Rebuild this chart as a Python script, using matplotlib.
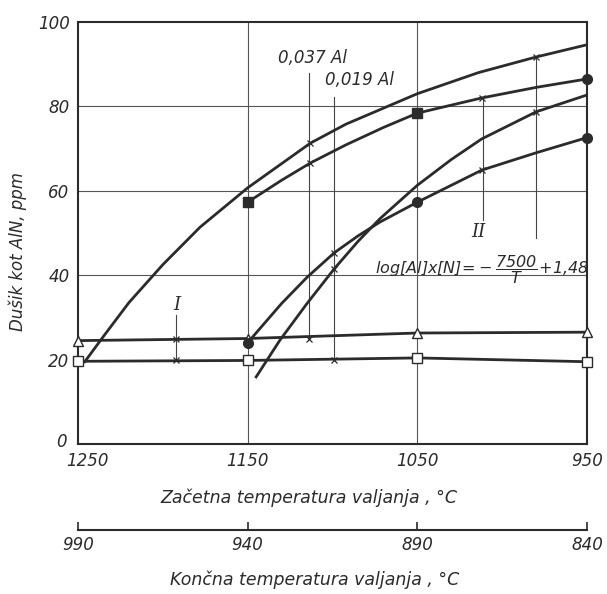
import numpy as np
import matplotlib.pyplot as plt
from matplotlib.transforms import ScaledTranslation

plt.rcParams['font.family'] = ['DejaVu Sans']
plt.rcParams['font.style'] = 'italic'
plt.rcParams['mathtext.fontset'] = 'dejavusans'

INK = '#2b2b2b'

# Začetna temperatura (°C) and nitrogen bound as AlN (ppm)
temp_c1 = [1246, 1235, 1220, 1200, 1178, 1150, 1113, 1092, 1050, 1014, 980, 950]
aln_c1 = [19.5, 25.5, 33.5, 42.5, 51.4, 60.7, 71.3, 75.8, 83.0, 88.0, 91.7, 94.6]

temp_c2 = [1150, 1130, 1113, 1092, 1070, 1050, 1012, 980, 950]
aln_c2 = [57.3, 62.5, 66.6, 70.9, 75.0, 78.4, 82.0, 84.5, 86.5]

temp_c3 = [1145, 1131, 1115, 1099, 1085, 1072, 1050, 1030, 1012, 980, 950]
aln_c3 = [15.9, 24.6, 33.3, 41.5, 48.0, 53.4, 61.3, 67.4, 72.3, 78.7, 82.7]

temp_c4 = [1150, 1130, 1115, 1099, 1085, 1072, 1050, 1012, 980, 950]
aln_c4 = [24.0, 33.3, 39.5, 45.3, 49.3, 52.6, 57.3, 64.9, 69.0, 72.6]

temp_meas = [1250, 1150, 1050, 950]
aln_tri = [24.5, 25.0, 26.3, 26.5]
aln_sq = [19.6, 19.8, 20.4, 19.5]

# measured points on the curves
circ_t = [1150, 1050, 950, 950]
circ_v = [24.0, 57.3, 72.6, 86.5]
fsq_t = [1150, 1050]
fsq_v = [57.3, 78.4]

# leader lines: (temperature, from, to)
leaders = [(1114, 88.0, 25.0), (1099, 82.2, 20.0), (1192, 30.6, 20.0),
           (1011, 82.0, 53.0), (980, 91.7, 48.8)]
cross_t = [1113, 980, 1113, 1012, 1099, 980, 1099, 1012, 1192, 1114, 1192, 1099]
cross_v = [71.3, 91.7, 66.6, 82.0, 41.5, 78.7, 45.3, 64.9, 25.0, 25.0, 20.0, 20.0]

x_ticks = [1250, 1150, 1050, 950]
y_ticks = [0, 20, 40, 60, 80, 100]
end_ticks = [990, 940, 890, 840]

fig = plt.figure(figsize=(6.07, 5.94), dpi=100)
ax = fig.add_axes([0.1285, 0.2525, 0.8385, 0.7105])

ax.set_xlim(1250, 950)
ax.set_ylim(0, 100)

# grid
for t in [1150, 1050]:
    ax.axvline(t, color='#555555', lw=0.8, zorder=1)
for v in [40, 60, 80]:
    ax.axhline(v, color='#555555', lw=0.8, zorder=1)

for t, y0, y1 in leaders:
    ax.plot([t, t], [y0, y1], color='#444444', lw=0.8, zorder=1)

lw = 2.0
ax.plot(temp_c1, aln_c1, color=INK, lw=lw, zorder=3)
ax.plot(temp_c2, aln_c2, color=INK, lw=lw, zorder=3)
ax.plot(temp_c3, aln_c3, color=INK, lw=lw, zorder=3)
ax.plot(temp_c4, aln_c4, color=INK, lw=lw, zorder=3)
ax.plot(temp_meas, aln_tri, color=INK, lw=lw, zorder=3)
ax.plot(temp_meas, aln_sq, color=INK, lw=lw, zorder=3)

ax.plot(temp_meas, aln_tri, ls='none', marker='^', ms=7, mfc='white',
        mec=INK, mew=1.0, zorder=4, clip_on=False)
ax.plot(temp_meas, aln_sq, ls='none', marker='s', ms=6.5, mfc='white',
        mec=INK, mew=1.0, zorder=4, clip_on=False)
ax.plot(circ_t, circ_v, ls='none', marker='o', ms=7, color=INK, zorder=5,
        clip_on=False)
ax.plot(fsq_t, fsq_v, ls='none', marker='s', ms=6.5, color=INK, zorder=5)
ax.plot(cross_t, cross_v, ls='none', marker='x', ms=5, mew=0.9, color=INK,
        zorder=4)

# labels in the plot
ax.text(1112, 91.5, '0,037 Al', fontsize=12, ha='center', va='center', color=INK)
ax.text(1084, 86.3, '0,019 Al', fontsize=12, ha='center', va='center', color=INK)
ax.text(1192, 33, 'I', fontsize=13, ha='center', va='center', color=INK,
        family='DejaVu Serif')
ax.text(1014, 50.2, 'II', fontsize=13, ha='center', va='center', color=INK,
        family='DejaVu Serif')
ax.text(1075, 41.3,
        r'$\mathit{log[Al]x[N]}\!=\!-\dfrac{\mathit{7500}}{\mathit{T}}\!+\!\mathit{1{,}48}$',
        fontsize=11.5, ha='left', va='center', color=INK)

ax.set_xticks(x_ticks)
ax.set_yticks(y_ticks)
ax.tick_params(length=0, labelsize=12, colors=INK, pad=6)
ax.set_yticklabels(['0', '20', '40', '60', '80', '100'])
for sp in ax.spines.values():
    sp.set_linewidth(1.5)
    sp.set_color(INK)

# nudge the corner labels apart like in the original drawing
xl0 = ax.get_xticklabels()[0]
xl0.set_transform(xl0.get_transform() + ScaledTranslation(9 / 100, 0, fig.dpi_scale_trans))
yl0 = ax.get_yticklabels()[0]
yl0.set_transform(yl0.get_transform() + ScaledTranslation(-3 / 100, 4 / 100, fig.dpi_scale_trans))

ax.set_xlabel('Začetna temperatura valjanja , °C', fontsize=12.5, color=INK,
              va='center')
ax.xaxis.set_label_coords(0.454, -0.128)
ax.set_ylabel('Dušik kot AlN, ppm', fontsize=12, color=INK, va='center')
ax.yaxis.set_label_coords(-0.118, 0.455)

# second scale: končna temperatura
sec = ax.secondary_xaxis(-0.204, functions=(lambda t: 0.5 * t + 365,
                                             lambda f: (f - 365) * 2.0))
sec.set_xticks(end_ticks)
sec.tick_params(direction='in', length=6, width=1.2, labelsize=12, colors=INK,
                pad=4)
sec.spines['bottom'].set_linewidth(1.5)
sec.spines['bottom'].set_color(INK)

fig.text(0.519, 0.0236, 'Končna temperatura valjanja , °C', fontsize=12.5,
         ha='center', va='center', color=INK)

fig.savefig('out.png', dpi=100, facecolor='white')
